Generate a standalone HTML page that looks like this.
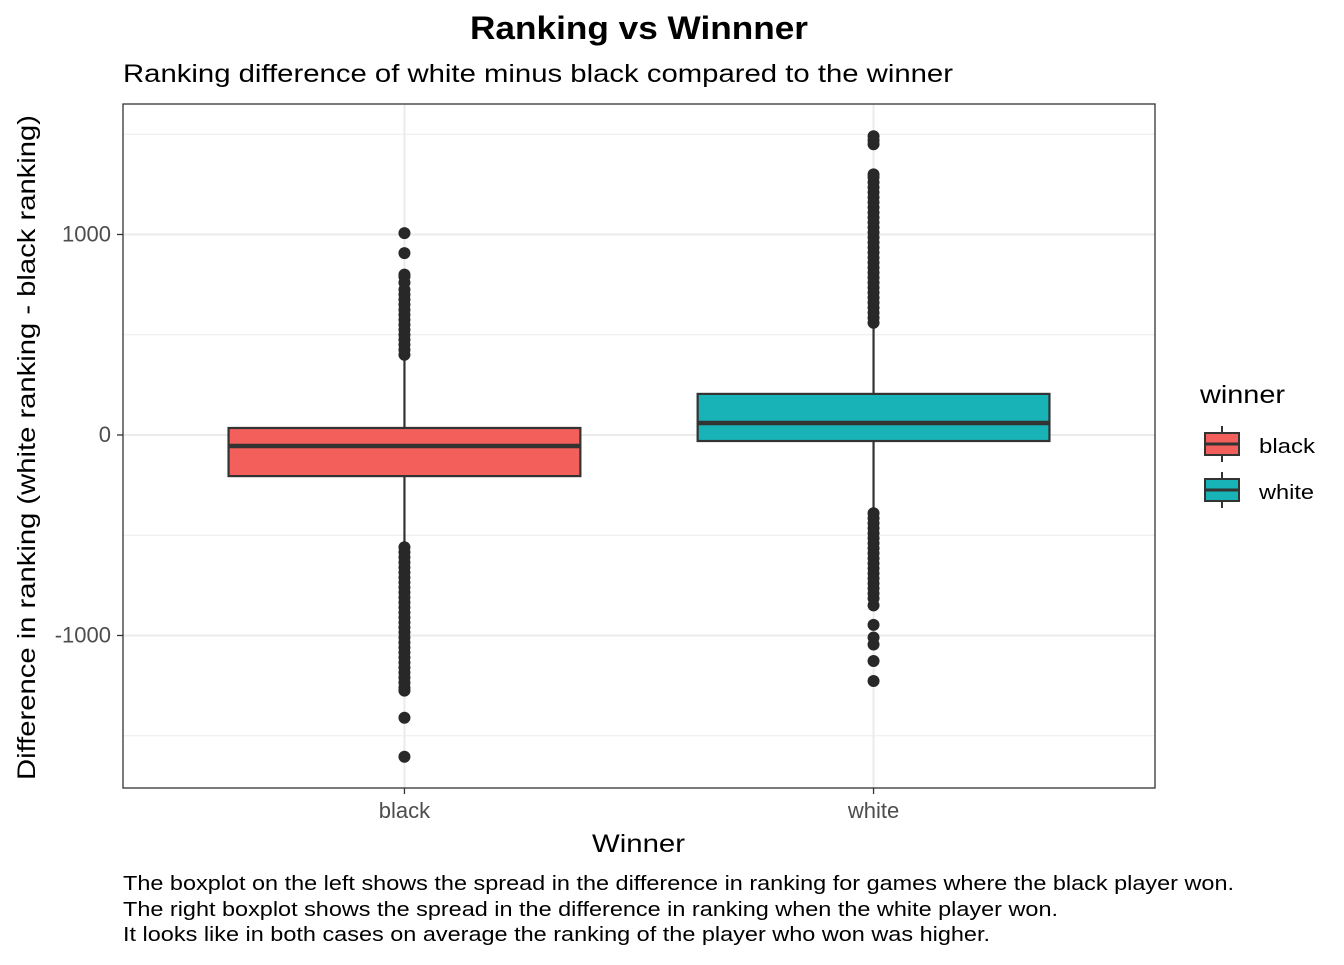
<!DOCTYPE html>
<html><head><meta charset="utf-8"><style>
body{margin:0;background:#fff;font-family:"Liberation Sans",Arial,sans-serif;}
</style></head><body>
<svg width="1344" height="960" xmlns="http://www.w3.org/2000/svg" font-family="Liberation Sans, Arial, sans-serif">
<text x="470" y="39" font-size="32" font-weight="bold" textLength="338" lengthAdjust="spacingAndGlyphs">Ranking vs Winnner</text>
<text x="123" y="82" font-size="25" textLength="830" lengthAdjust="spacingAndGlyphs">Ranking difference of white minus black compared to the winner</text>
<g id="grid"></g>
<g id="marks"></g>
<rect x="123" y="104" width="1032" height="684" fill="none" stroke="#333" stroke-width="1.3"/>
<g id="axes" font-size="20" fill="#4d4d4d"></g>
<text x="592" y="852" font-size="25" textLength="93" lengthAdjust="spacingAndGlyphs">Winner</text>
<text transform="translate(35,780) rotate(-90)" font-size="25" textLength="665" lengthAdjust="spacingAndGlyphs">Difference in ranking (white ranking - black ranking)</text>
<g>
<text x="1200" y="403" font-size="25" textLength="85" lengthAdjust="spacingAndGlyphs">winner</text>
<g>
<line x1="1222" y1="426" x2="1222" y2="462" stroke="#333" stroke-width="2"/>
<rect x="1205" y="433" width="34" height="22" fill="#F35F5B" stroke="#333" stroke-width="2"/>
<line x1="1205" y1="444" x2="1239" y2="444" stroke="#333" stroke-width="3"/>
<text x="1259" y="453" font-size="20" textLength="56" lengthAdjust="spacingAndGlyphs">black</text></g>
<g>
<line x1="1222" y1="472" x2="1222" y2="508" stroke="#333" stroke-width="2"/>
<rect x="1205" y="479" width="34" height="22" fill="#18B3B6" stroke="#333" stroke-width="2"/>
<line x1="1205" y1="490" x2="1239" y2="490" stroke="#333" stroke-width="3"/>
<text x="1259" y="499" font-size="20" textLength="55" lengthAdjust="spacingAndGlyphs">white</text></g>
</g>
<g font-size="20">
<text x="123" y="890" textLength="1111" lengthAdjust="spacingAndGlyphs">The boxplot on the left shows the spread in the difference in ranking for games where the black player won.</text>
<text x="123" y="916" textLength="935" lengthAdjust="spacingAndGlyphs">The right boxplot shows the spread in the difference in ranking when the white player won.</text>
<text x="123" y="941" textLength="867" lengthAdjust="spacingAndGlyphs">It looks like in both cases on average the ranking of the player who won was higher.</text>
</g>
</svg>
<script>
const categories = ["black","white"];
const colors = ["#F35F5B","#18B3B6"];
const q1 = [-205,-30];
const medians = [-55,60];
const q3 = [35,205];
const whiskerLow = [-540,-375];
const whiskerHigh = [374,540];
const outliersBlack = [400,425,450,475,500,525,550,575,600,625,650,675,700,725,760,790,800,907,1007,
 -560,-585,-610,-635,-660,-685,-710,-735,-760,-785,-810,-835,-860,-885,-910,-935,-960,-985,-1010,-1035,-1060,-1085,-1110,-1135,-1160,-1185,-1210,-1235,-1260,-1275,-1410,-1605];
const outliersWhite = [560,585,610,635,660,685,710,735,760,785,810,835,860,885,910,935,960,985,1010,1035,1060,1085,1110,1135,1160,1185,1210,1235,1260,1285,1300,1450,1470,1490,
 -390,-415,-440,-465,-490,-515,-540,-565,-590,-615,-640,-665,-690,-715,-740,-765,-790,-815,-850,-947,-1010,-1045,-1127,-1227];
const outliers = [outliersBlack, outliersWhite];
const yTicks = [-1000,0,1000];
const yMinor = [-1500,-500,500,1500];

const NS="http://www.w3.org/2000/svg";
const X0=123,X1=1155,Y0=104,Y1=788;
function ys(v){return 435 - v*0.2005;}
function xs(i){return X0 + (i+0.6)*(X1-X0)/2.2;}
const bw=(X1-X0)/2.2*0.75;
function mk(tag,attrs,parent){const e=document.createElementNS(NS,tag);for(const k in attrs)e.setAttribute(k,attrs[k]);parent.appendChild(e);return e;}
const grid=document.getElementById('grid'),marks=document.getElementById('marks'),axes=document.getElementById('axes');
mk('rect',{x:X0,y:Y0,width:X1-X0,height:Y1-Y0,fill:'#fff'},grid);
yMinor.forEach(v=>{const l=mk('line',{x1:X0,x2:X1,y1:ys(v),y2:ys(v),stroke:'#ebebeb','stroke-width':1},grid);

});
yTicks.forEach(v=>{const l=mk('line',{x1:X0,x2:X1,y1:ys(v),y2:ys(v),stroke:'#ebebeb','stroke-width':2},grid);


const t=mk('text',{x:X0-12,y:ys(v)+7,'text-anchor':'end','font-size':22},axes);t.textContent=v;


mk('line',{x1:X0-6,x2:X0,y1:ys(v),y2:ys(v),stroke:'#333','stroke-width':1.3},axes);});
categories.forEach((c,i)=>{const x=xs(i);
const g=mk('line',{x1:x,x2:x,y1:Y0,y2:Y1,stroke:'#ebebeb','stroke-width':2},grid);


mk('line',{x1:x,x2:x,y1:Y1,y2:Y1+6,stroke:'#333','stroke-width':1.3},axes);
const t=mk('text',{x:x,y:Y1+30,'text-anchor':'middle','font-size':22},axes);t.textContent=c;


const grp=mk('g',{},marks);


mk('line',{x1:x,x2:x,y1:ys(whiskerHigh[i]),y2:ys(q3[i]),stroke:'#333','stroke-width':2.2},grp);
mk('line',{x1:x,x2:x,y1:ys(q1[i]),y2:ys(whiskerLow[i]),stroke:'#333','stroke-width':2.2},grp);
mk('rect',{x:x-bw/2,y:ys(q3[i]),width:bw,height:ys(q1[i])-ys(q3[i]),fill:colors[i],stroke:'#333','stroke-width':2.2},grp);
mk('line',{x1:x-bw/2,x2:x+bw/2,y1:ys(medians[i]),y2:ys(medians[i]),stroke:'#333','stroke-width':4.5},grp);
outliers[i].forEach(v=>{const p=mk('circle',{cx:x,cy:ys(v),r:6,fill:'#282828'},grp);

});
});
</script>
</body></html>
